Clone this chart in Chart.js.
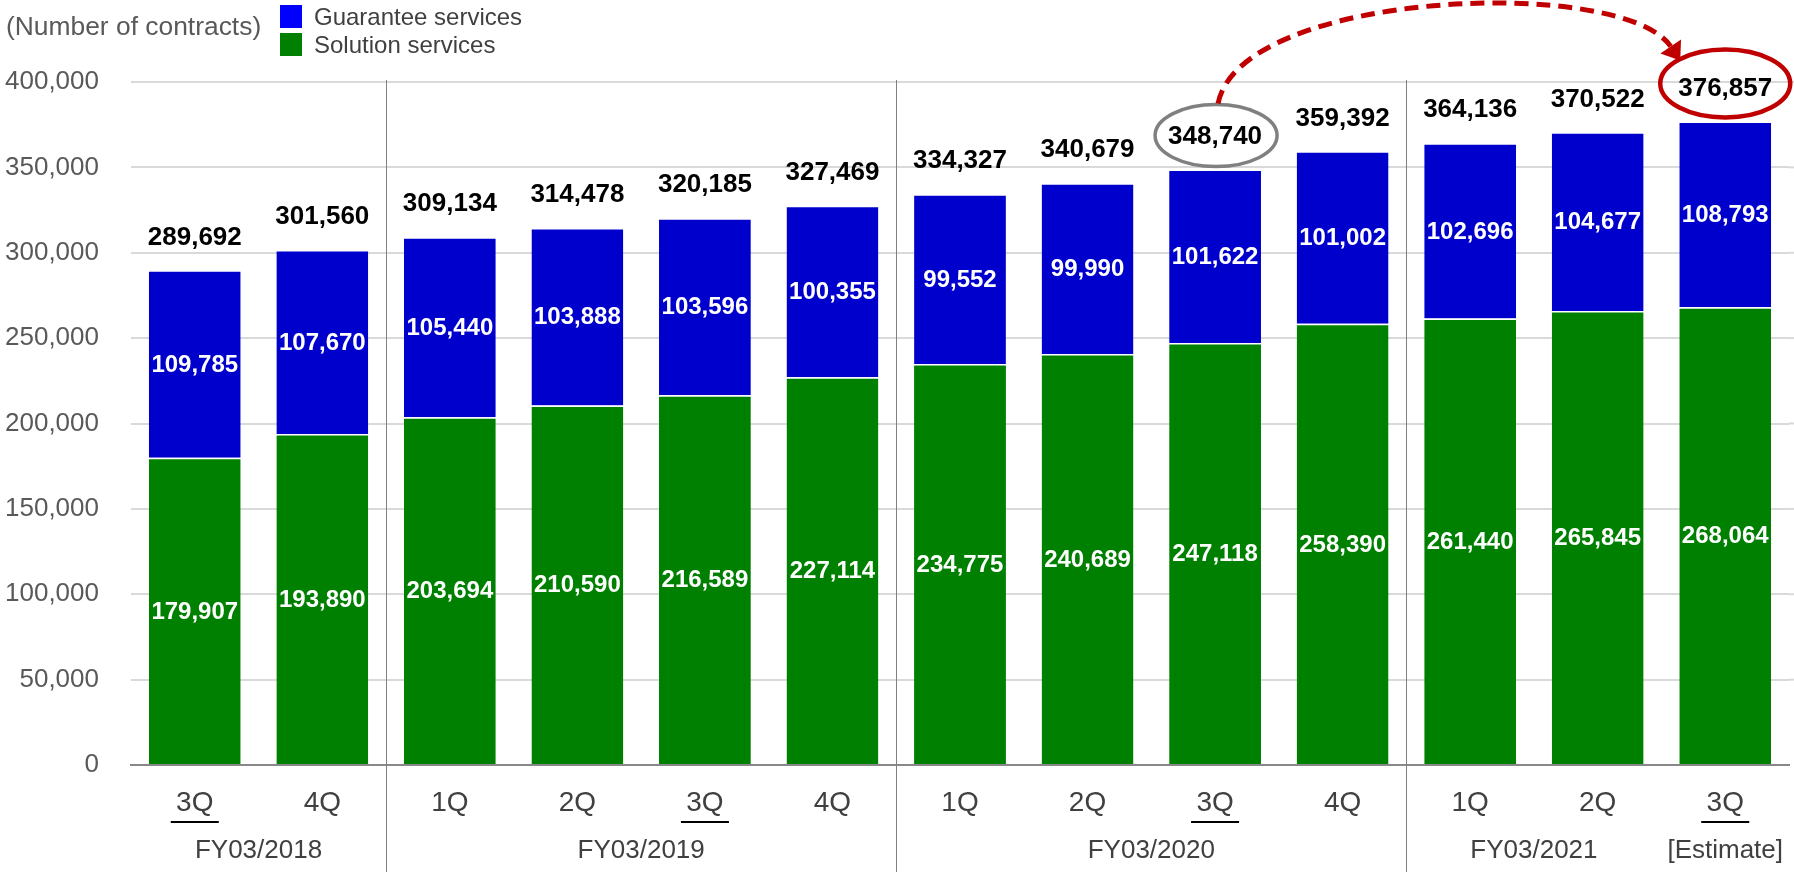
<!DOCTYPE html>
<html><head><meta charset="utf-8">
<script src="https://cdn.jsdelivr.net/npm/chart.js@4/dist/chart.umd.min.js"></script>
<style>html,body{margin:0;padding:0;background:#fff;overflow:hidden}canvas{display:block}</style>
</head><body>
<canvas id="c" width="1794" height="872"></canvas>
<script>
// ---- data ----
const quarters = ['3Q','4Q','1Q','2Q','3Q','4Q','1Q','2Q','3Q','4Q','1Q','2Q','3Q'];
const fiscalYears = ['FY03/2018','FY03/2019','FY03/2020','FY03/2021','[Estimate]'];
const fiscalYearFirst = [0, 2, 6, 10, 12];
const fiscalYearLast  = [1, 5, 9, 11, 12];
const separatorsBefore = [2, 6, 10];
const underlinedQuarters = [0, 4, 8, 12];
const guarantee = [109785,107670,105440,103888,103596,100355,99552,99990,101622,101002,102696,104677,108793];
const solution  = [179907,193890,203694,210590,216589,227114,234775,240689,247118,258390,261440,265845,268064];
const totals    = [289692,301560,309134,314478,320185,327469,334327,340679,348740,359392,364136,370522,376857];
const seriesNames = ['Guarantee services','Solution services'];
const unitLabel = '(Number of contracts)';
const yMax = 400000, yStep = 50000;
const compareFrom = 8, compareTo = 12;

const FONT = "'Liberation Sans', Arial, Helvetica, sans-serif";
const fmt = v => v.toLocaleString('en-US');

const overlay = {
  id: 'overlay',
  beforeDatasetsDraw(chart) {
    const {ctx, chartArea: ca, scales: {x, y}} = chart;
    ctx.save();
    // extend gridlines to right edge
    ctx.strokeStyle = '#d9d9d9'; ctx.lineWidth = 2;
    y.ticks.forEach(t => {
      if (t.value === 0) return;
      const py = y.getPixelForValue(t.value);
      ctx.beginPath(); ctx.moveTo(ca.right, py); ctx.lineTo(chart.width, py); ctx.stroke();
    });
    // group separators
    ctx.strokeStyle = '#808080'; ctx.lineWidth = 1;
    separatorsBefore.forEach(i => {
      const sx = Math.round((x.getPixelForValue(i - 1) + x.getPixelForValue(i)) / 2) + 0.5;
      ctx.beginPath(); ctx.moveTo(sx, ca.top - 2); ctx.lineTo(sx, chart.height); ctx.stroke();
    });
    ctx.restore();
  },
  afterDraw(chart) {
    const {ctx, chartArea: ca, scales: {x, y}} = chart;
    const mS = chart.getDatasetMeta(0), mG = chart.getDatasetMeta(1);
    ctx.save();
    ctx.textAlign = 'center'; ctx.textBaseline = 'middle';
    // segment labels
    ctx.fillStyle = '#ffffff'; ctx.font = 'bold 24px ' + FONT;
    [mS, mG].forEach((m, k) => {
      const vals = k === 0 ? solution : guarantee;
      m.data.forEach((el, i) => {
        ctx.fillText(fmt(vals[i]), el.x, (el.y + el.base) / 2 + 1);
      });
    });
    // totals
    ctx.fillStyle = '#000000'; ctx.font = 'bold 26px ' + FONT;
    const totalPos = [];
    mG.data.forEach((el, i) => {
      const ty = el.y - 34;
      totalPos.push({x: el.x, y: ty});
      ctx.fillText(fmt(totals[i]), el.x, ty + 1);
    });
    // x-axis: fiscal year labels & underlines
    ctx.fillStyle = '#404040'; ctx.font = '26px ' + FONT;
    fiscalYears.forEach((lbl, k) => {
      const cx = (x.getPixelForValue(fiscalYearFirst[k]) + x.getPixelForValue(fiscalYearLast[k])) / 2;
      ctx.fillText(lbl, cx, 851);
    });
    ctx.fillStyle = '#000000';
    underlinedQuarters.forEach(i => {
      const cx = x.getPixelForValue(i);
      ctx.fillRect(cx - 24, 821, 48, 2);
    });
    // ellipses
    const g = totalPos[compareFrom], r = totalPos[compareTo];
    const gE = {x: g.x + 1, y: g.y, rx: 61, ry: 31};
    const rE = {x: r.x, y: r.y - 4, rx: 65, ry: 34};
    ctx.lineWidth = 3.5; ctx.strokeStyle = '#808080';
    ctx.beginPath(); ctx.ellipse(gE.x, gE.y, gE.rx, gE.ry, 0, 0, Math.PI * 2); ctx.stroke();
    ctx.lineWidth = 4.5; ctx.strokeStyle = '#c00000';
    ctx.beginPath(); ctx.ellipse(rE.x, rE.y, rE.rx, rE.ry, 0, 0, Math.PI * 2); ctx.stroke();
    // dashed arrow
    const p0 = {x: gE.x + 2, y: gE.y - gE.ry - 1};
    const tip = {x: rE.x - 45, y: rE.y - 23};
    const p2 = {x: tip.x - 58, y: ca.top - 107};
    let dx = tip.x - p2.x, dy = tip.y - p2.y; const dl = Math.hypot(dx, dy); dx /= dl; dy /= dl;
    const L = 17, W = 25;
    const end = {x: tip.x - dx * L, y: tip.y - dy * L};
    const p1 = {x: p0.x + 22, y: ca.top - 92};
    ctx.setLineDash([14, 8]); ctx.lineWidth = 5; ctx.strokeStyle = '#c00000';
    ctx.beginPath(); ctx.moveTo(p0.x, p0.y);
    ctx.bezierCurveTo(p1.x, p1.y, p2.x, p2.y, end.x, end.y); ctx.stroke();
    ctx.setLineDash([]);
    ctx.fillStyle = '#c00000';
    ctx.beginPath();
    ctx.moveTo(tip.x, tip.y);
    ctx.lineTo(end.x - dy * W / 2, end.y + dx * W / 2);
    ctx.lineTo(end.x + dy * W / 2, end.y - dx * W / 2);
    ctx.closePath(); ctx.fill();
    // unit label
    ctx.textAlign = 'left';
    ctx.fillStyle = '#595959'; ctx.font = '26.4px ' + FONT;
    ctx.fillText(unitLabel, 6, 28);
    // legend
    const legendColors = ['#0000ff', '#008000'];
    const legendY = [17, 45];
    ctx.font = '24px ' + FONT;
    seriesNames.forEach((n, k) => {
      ctx.fillStyle = legendColors[k];
      ctx.fillRect(280, legendY[k] - 12, 22, 23);
      ctx.fillStyle = '#404040';
      ctx.fillText(n, 314, legendY[k] + 1);
    });
    ctx.restore();
  }
};

Chart.defaults.font.family = FONT;
new Chart(document.getElementById('c'), {
  type: 'bar',
  data: {
    labels: quarters,
    datasets: [
      {label: seriesNames[1], data: solution, backgroundColor: '#008000', borderColor: '#ffffff',
       borderWidth: {top: 1.5, left: 0, right: 0, bottom: 0}, borderSkipped: 'start'},
      {label: seriesNames[0], data: guarantee, backgroundColor: '#0000cc', borderColor: '#ffffff',
       borderWidth: {top: 1.5, left: 0, right: 0, bottom: 0}, borderSkipped: 'start'}
    ]
  },
  options: {
    responsive: false, animation: false, devicePixelRatio: 1,
    layout: {padding: {top: 82, right: 5, left: 0, bottom: 0}},
    plugins: {legend: {display: false}, tooltip: {enabled: false}},
    datasets: {bar: {categoryPercentage: 1, barPercentage: 0.72}},
    scales: {
      x: {
        stacked: true,
        grid: {display: false, drawTicks: false},
        border: {display: true, color: '#888888', width: 2},
        ticks: {color: '#404040', font: {size: 28}, padding: 21, maxRotation: 0, autoSkip: false},
        afterFit: s => { s.height = 107; }
      },
      y: {
        stacked: true, min: 0, max: yMax,
        grid: {color: '#d9d9d9', lineWidth: 2, drawTicks: false},
        border: {display: false},
        ticks: {stepSize: yStep, color: '#595959', font: {size: 26}, padding: 32,
                callback: v => fmt(v)},
        afterFit: s => { s.width = 131; }
      }
    }
  },
  plugins: [overlay]
});
</script>
</body></html>
